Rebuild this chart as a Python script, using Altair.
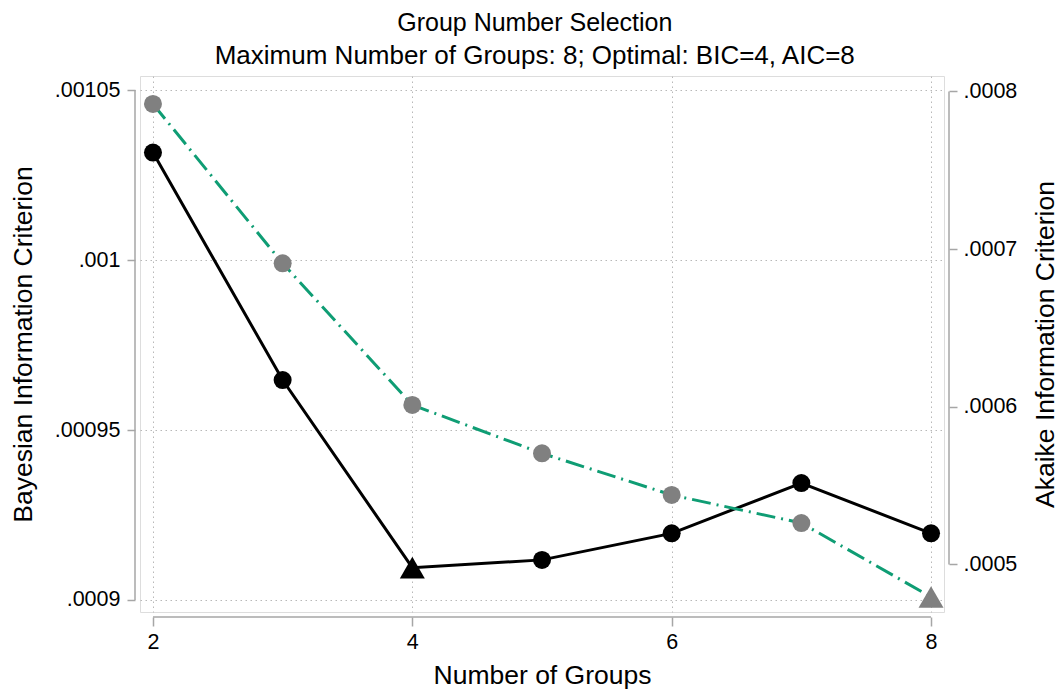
import altair as alt
import pandas as pd

# Information criteria by number of groups
groups = [2, 3, 4, 5, 6, 7, 8]
bic = [0.0010316, 0.0009647, 0.0009095, 0.0009118, 0.0009196, 0.0009344, 0.0009196]
aic = [0.0007921, 0.0006910, 0.0006012, 0.0005705, 0.0005441, 0.0005263, 0.0004794]
bic_best = 4
aic_best = 8

x_ticks = [2, 4, 6, 8]
bic_ticks = [0.0009, 0.00095, 0.001, 0.00105]
aic_ticks = [0.0005, 0.0006, 0.0007, 0.0008]

FONT = "Liberation Sans"
W, H = 804, 536
AXIS_GRAY = "#a6a6a6"
GREEN = "#0f9d74"
POINT_GRAY = "#808080"
LABEL_SIZE = 21.5
TITLE_SIZE = 26.5

x_dom = [1.9, 8.1]
bic_dom = [0.00089647, 0.00105412]
aic_dom = [0.00046987, 0.00080983]

df = pd.DataFrame({
    "groups": groups,
    "bic": bic,
    "aic": aic,
    "bic_shape": ["triangle-up" if g == bic_best else "circle" for g in groups],
    "aic_shape": ["triangle-up" if g == aic_best else "circle" for g in groups],
    "bic_size": [625 if g == bic_best else 324 for g in groups],
    "aic_size": [625 if g == aic_best else 324 for g in groups],
})

x_scale = alt.Scale(domain=x_dom, nice=False, zero=False)
bic_scale = alt.Scale(domain=bic_dom, nice=False, zero=False)
aic_scale = alt.Scale(domain=aic_dom, nice=False, zero=False)

x_axis = alt.Axis(
    values=x_ticks, title="Number of Groups", offset=5, domain=False,
    grid=True, gridDash=[1.5, 3.5], gridColor="#b8b8b8", gridWidth=1,
    tickSize=9, tickColor=AXIS_GRAY, tickWidth=1.5, labelPadding=5,
    labelFontSize=LABEL_SIZE, labelFont=FONT, labelColor="black", labelFlush=False,
    titleFontSize=TITLE_SIZE, titleFont=FONT, titleFontWeight="normal", titleColor="black",
    titlePadding=10,
)

bic_axis = alt.Axis(
    values=bic_ticks, title="Bayesian Information Criterion", offset=5, domain=False,
    labelExpr="substring(format(datum.value, '.5~f'), 1)",
    grid=True, gridDash=[1.5, 3.5], gridColor="#b8b8b8", gridWidth=1,
    tickSize=8, tickColor=AXIS_GRAY, tickWidth=1.5, labelPadding=7,
    labelFontSize=LABEL_SIZE, labelFont=FONT, labelColor="black",
    titleFontSize=TITLE_SIZE, titleFont=FONT, titleFontWeight="normal", titleColor="black",
    titlePadding=17,
)

aic_axis = alt.Axis(
    values=aic_ticks, title="Akaike Information Criterion", orient="right", offset=5,
    domain=False, labelExpr="substring(format(datum.value, '.4~f'), 1)",
    grid=False, tickSize=8, tickColor=AXIS_GRAY, tickWidth=1.5, labelPadding=6,
    labelFontSize=LABEL_SIZE, labelFont=FONT, labelColor="black",
    titleFontSize=TITLE_SIZE, titleFont=FONT, titleFontWeight="normal", titleColor="black",
    titleAngle=270, titlePadding=43,
)

base = alt.Chart(df)

# axis lines spanning only the labelled tick range
bic_span = pd.DataFrame({"lo": [min(bic_ticks)], "hi": [max(bic_ticks)]})
aic_span = pd.DataFrame({"lo": [min(aic_ticks)], "hi": [max(aic_ticks)]})
x_span = pd.DataFrame({"lo": [min(x_ticks)], "hi": [max(x_ticks)]})

bic_line = base.mark_line(color="black", strokeWidth=3).encode(
    x=alt.X("groups:Q", scale=x_scale, axis=x_axis),
    y=alt.Y("bic:Q", scale=bic_scale, axis=bic_axis),
)
bic_pts = base.mark_point(filled=True, opacity=1, color="black").encode(
    x=alt.X("groups:Q", scale=x_scale, axis=x_axis),
    y=alt.Y("bic:Q", scale=bic_scale, axis=bic_axis),
    shape=alt.Shape("bic_shape:N", scale=None),
    size=alt.Size("bic_size:Q", scale=None),
)
bic_rule = alt.Chart(bic_span).mark_rule(color=AXIS_GRAY, strokeWidth=1.5).encode(
    x=alt.value(-5),
    y=alt.Y("lo:Q", scale=bic_scale, axis=bic_axis),
    y2="hi:Q",
)
x_rule = alt.Chart(x_span).mark_rule(color=AXIS_GRAY, strokeWidth=1.5).encode(
    x=alt.X("lo:Q", scale=x_scale, axis=x_axis),
    x2="hi:Q",
    y=alt.value(H + 5),
)
left = alt.layer(bic_line, bic_pts, bic_rule, x_rule)

aic_line = base.mark_line(color=GREEN, strokeWidth=3, strokeDash=[19, 6, 2, 6]).encode(
    x=alt.X("groups:Q", scale=x_scale, axis=x_axis),
    y=alt.Y("aic:Q", scale=aic_scale, axis=aic_axis),
)
aic_pts = base.mark_point(filled=True, opacity=1, color=POINT_GRAY).encode(
    x=alt.X("groups:Q", scale=x_scale, axis=x_axis),
    y=alt.Y("aic:Q", scale=aic_scale, axis=aic_axis),
    shape=alt.Shape("aic_shape:N", scale=None),
    size=alt.Size("aic_size:Q", scale=None),
)
aic_rule = alt.Chart(aic_span).mark_rule(color=AXIS_GRAY, strokeWidth=1.5).encode(
    x=alt.value(W + 5),
    y=alt.Y("lo:Q", scale=aic_scale, axis=aic_axis),
    y2="hi:Q",
)
right = alt.layer(aic_line, aic_pts, aic_rule)

chart = alt.layer(left, right).resolve_scale(y="independent").properties(
    width=W,
    height=H,
    padding={"left": 140, "top": 76, "right": 119, "bottom": 80},
    autosize=alt.AutoSizeParams(type="none"),
    title=alt.TitleParams(
        text="Group Number Selection",
        subtitle="Maximum Number of Groups: 8; Optimal: BIC=4, AIC=8",
        font=FONT, fontSize=25, fontWeight="normal", color="black",
        subtitleFont=FONT, subtitleFontSize=26, subtitleColor="black",
        subtitlePadding=7, anchor="middle", frame="bounds", offset=7,
    ),
).configure_view(strokeWidth=0).configure(background="white")

chart.save("out.html", embed_options={"renderer": "svg", "actions": False})
